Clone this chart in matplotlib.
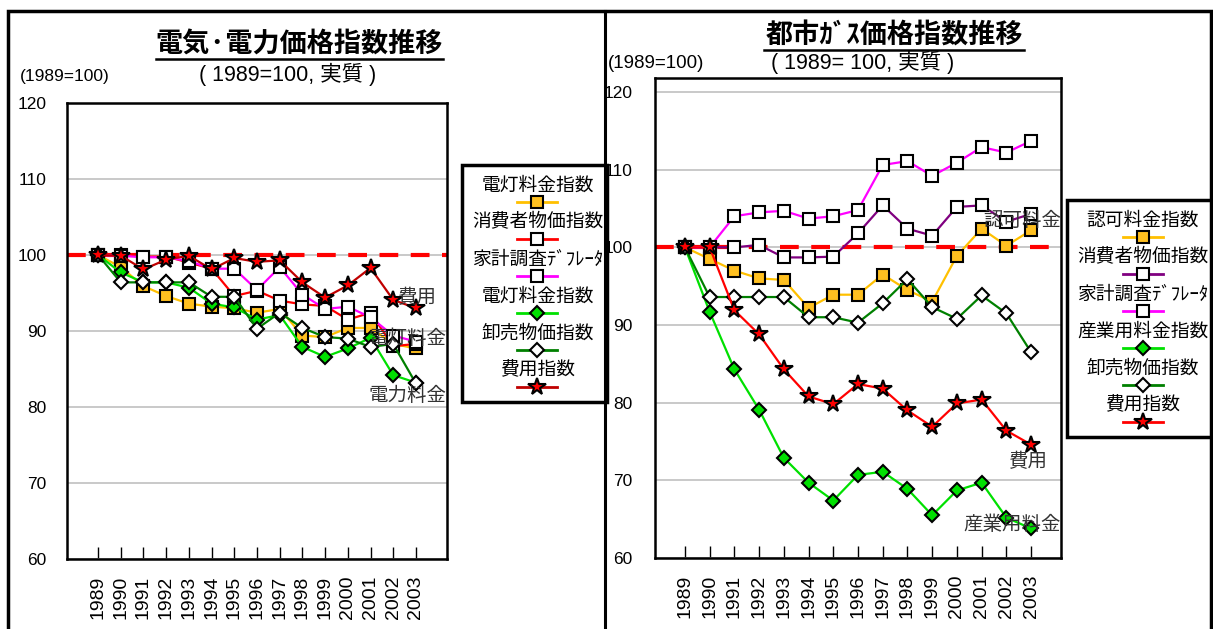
import matplotlib
matplotlib.use('Agg')
import matplotlib.pyplot as plt
from matplotlib.lines import Line2D
from matplotlib.patches import Rectangle

plt.rcParams['font.family'] = ['Liberation Sans', 'Noto Sans CJK JP', 'DejaVu Sans']

years = list(range(1989, 2004))

# 電気・電力 (left)
el_light = [100, 98.4, 95.9, 94.6, 93.6, 93.2, 93.0, 92.4, 92.9, 89.4, 89.2, 90.4, 90.4, 88.3, 87.7]
el_cpi = [100, 100, 99.8, 99.8, 99.0, 98.2, 94.6, 95.3, 94.0, 93.5, 93.3, 91.5, 92.4, 88.0, 88.3]
el_defl = [100, 99.9, 99.7, 99.7, 99.2, 98.2, 98.2, 95.4, 98.4, 94.8, 92.9, 93.2, 91.8, 89.4, 88.6]
el_power = [100, 97.7, 96.4, 96.4, 95.7, 93.6, 93.1, 91.5, 92.1, 87.9, 86.6, 87.7, 89.1, 84.2, 83.2]
el_wpi = [100, 96.4, 96.4, 96.4, 96.4, 94.5, 94.5, 90.3, 92.4, 90.4, 89.2, 89.0, 87.9, 88.3, 83.1]
el_cost = [100, 99.9, 98.1, 99.4, 99.9, 98.1, 99.6, 99.1, 99.3, 96.4, 94.4, 96.0, 98.3, 94.1, 93.0]
el_labels = ['電灯料金指数', '消費者物価指数', '家計調査ﾃﾞﾌﾚｰﾀ', '電灯料金指数', '卸売物価指数', '費用指数']

# 都市ガス (right)
gas_rate = [100, 98.5, 97.0, 96.0, 95.8, 92.2, 93.9, 93.9, 96.5, 94.5, 93.0, 98.9, 102.4, 100.2, 102.2]
gas_cpi = [100, 100, 100, 100.3, 98.7, 98.7, 98.8, 101.8, 105.4, 102.4, 101.5, 105.2, 105.4, 103.3, 104.3]
gas_defl = [100, 100, 104.0, 104.5, 104.7, 103.7, 104.0, 104.8, 110.6, 111.1, 109.2, 110.9, 112.9, 112.2, 113.7]
gas_ind = [100, 91.7, 84.3, 79.1, 72.9, 69.7, 67.4, 70.7, 71.1, 68.9, 65.5, 68.7, 69.7, 65.2, 63.8]
gas_wpi = [100, 93.6, 93.6, 93.6, 93.6, 91.0, 91.0, 90.3, 92.8, 95.9, 92.3, 90.8, 93.8, 91.5, 86.5]
gas_cost = [100, 100, 91.9, 88.8, 84.3, 80.8, 79.8, 82.4, 81.8, 79.0, 76.9, 79.9, 80.4, 76.4, 74.6]
gas_labels = ['認可料金指数', '消費者物価指数', '家計調査ﾃﾞﾌﾚｰﾀ', '産業用料金指数', '卸売物価指数', '費用指数']

W, H = 1213, 629
ORANGE = '#FFC000'
MS_FILL = '#FFC020'

# (line colour, marker, marker face) per series
left_styles = [
    (ORANGE, 's', MS_FILL),
    ('#FF0000', 's', 'white'),
    ('#FF00FF', 's', 'white'),
    ('#00E000', 'D', '#00E000'),
    ('#008000', 'D', 'white'),
    ('#C00000', '*', '#FF0000'),
]
right_styles = [
    (ORANGE, 's', MS_FILL),
    ('#800080', 's', 'white'),
    ('#FF00FF', 's', 'white'),
    ('#00E000', 'D', '#00E000'),
    ('#008000', 'D', 'white'),
    ('#FF0000', '*', '#FF0000'),
]


def fx(px):
    return px / W


def fy(py):
    return 1 - py / H


def marker_size(m):
    return {'s': 9, 'D': 7.5, '*': 13}[m]


def draw_chart(ax, series, styles, xpad, ylim, lab_pad):
    idx = list(range(len(years)))
    ax.axhline(100, color='#FF0000', lw=3, ls=(0, (4.5, 3)), zorder=2)
    for vals, (col, m, face) in zip(series, styles):
        ax.plot(idx, vals, color=col, lw=1.6, marker=m, markersize=marker_size(m),
                markerfacecolor=face, markeredgecolor='black', markeredgewidth=1.5, zorder=3)
    ax.set_xlim(-xpad, len(years) - 1 + xpad)
    ax.set_ylim(*ylim)
    ax.set_yticks([60, 70, 80, 90, 100, 110, 120])
    ax.yaxis.grid(True, color='#C0C0C0', lw=1.2)
    ax.set_axisbelow(True)
    ax.set_xticks(idx)
    ax.set_xticklabels([str(y) for y in years], rotation=90, fontsize=14)
    ax.tick_params(axis='x', direction='in', length=9, width=1, pad=12)
    ax.tick_params(axis='y', length=0, pad=lab_pad, labelsize=12.5)
    for s in ax.spines.values():
        s.set_linewidth(1.8)


def draw_legend(fig, box, labels, styles):
    x0, y0, x1, y1 = box
    lax = fig.add_axes([fx(x0), fy(y1), fx(x1 - x0), (y1 - y0) / H])
    lax.set_xlim(0, x1 - x0)
    lax.set_ylim(y1 - y0, 0)
    lax.axis('off')
    lax.add_patch(Rectangle((0, 0), x1 - x0, y1 - y0, fill=False, lw=2.5,
                            edgecolor='black', clip_on=False))
    cx = (x1 - x0) / 2 + 3
    for i, (lab, (col, m, face)) in enumerate(zip(labels, styles)):
        ty = 20 + i * 37
        ly = ty + 17
        lax.text(cx, ty, lab, ha='center', va='center', fontsize=13.5,
                 family=['Noto Sans CJK JP'])
        lax.plot([cx - 20, cx + 20], [ly, ly], color=col, lw=2)
        lax.plot([cx], [ly], marker=m, markersize=marker_size(m), color=col,
                 markerfacecolor=face, markeredgecolor='black', markeredgewidth=1.5)


fig = plt.figure(figsize=(W / 100, H / 100), dpi=100)

# outer frames
fig.add_artist(Rectangle((fx(8), fy(640)), fx(1211 - 8), (640 - 11) / H, fill=False,
                         lw=2.5, edgecolor='black', transform=fig.transFigure))
fig.add_artist(Line2D([fx(605), fx(605)], [fy(11), 0], color='black', lw=2.2,
                      transform=fig.transFigure))

# left chart
axl = fig.add_axes([fx(67), fy(559), fx(447 - 67), (559 - 103) / H])
draw_chart(axl, [el_light, el_cpi, el_defl, el_power, el_wpi, el_cost], left_styles,
           1.37, (60, 120), 15)
axl.text(14.95, 94.3, '費用', ha='right', va='center', fontsize=14, color='#333333')
axl.text(15.37, 89.0, '電灯料金', ha='right', va='center', fontsize=14, color='#333333')
axl.text(15.37, 81.5, '電力料金', ha='right', va='center', fontsize=14, color='#333333')

# right chart
axr = fig.add_axes([fx(655), fy(558), fx(1061 - 655), (558 - 78) / H])
draw_chart(axr, [gas_rate, gas_cpi, gas_defl, gas_ind, gas_wpi, gas_cost], right_styles,
           1.21, (60, 121.8), 16)
axr.text(15.21, 103.4, '認可料金', ha='right', va='center', fontsize=14, color='#333333')
axr.text(14.7, 72.3, '費用', ha='right', va='center', fontsize=14, color='#333333')
axr.text(15.21, 64.3, '産業用料金', ha='right', va='center', fontsize=14, color='#333333')

# titles
fig.text(fx(299), fy(44), '電気·電力価格指数推移', ha='center', va='center', fontsize=19.5,
         fontweight='bold', family=['Noto Sans CJK JP'])
fig.add_artist(Line2D([fx(156), fx(443)], [fy(59), fy(59)], color='black', lw=1.8,
                      transform=fig.transFigure))
fig.text(fx(288), fy(74), '( 1989=100, 実質 )', ha='center', va='center', fontsize=15.5)
fig.text(fx(20), fy(76), '(1989=100)', ha='left', va='center', fontsize=12.5)

fig.text(fx(894), fy(35), '都市ｶﾞｽ価格指数推移', ha='center', va='center', fontsize=19.5,
         fontweight='bold', family=['Noto Sans CJK JP'])
fig.add_artist(Line2D([fx(764), fx(1024)], [fy(50), fy(50)], color='black', lw=1.8,
                      transform=fig.transFigure))
fig.text(fx(863), fy(62), '( 1989= 100, 実質 )', ha='center', va='center', fontsize=15.5)
fig.text(fx(608), fy(63), '(1989=100)', ha='left', va='center', fontsize=13.5)

draw_legend(fig, (462, 165, 607, 402), el_labels, left_styles)
draw_legend(fig, (1067, 200, 1212, 437), gas_labels, right_styles)

fig.savefig('out.png', dpi=100)
